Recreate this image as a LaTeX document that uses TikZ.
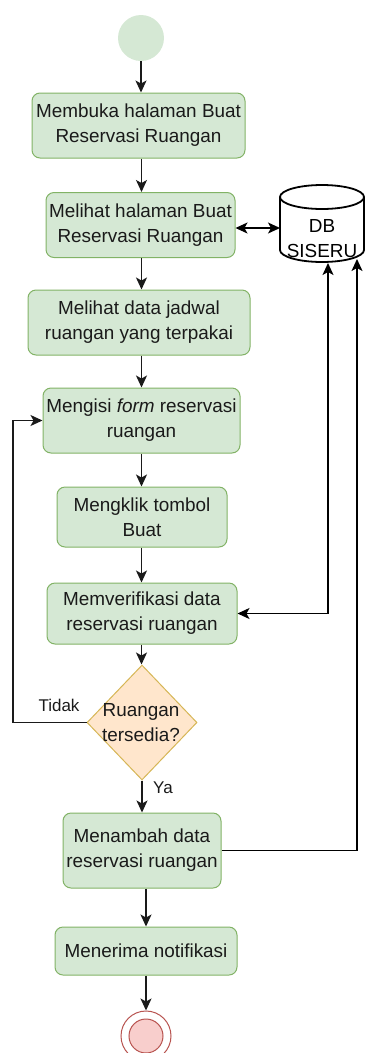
\documentclass[tikz,border=0pt]{standalone}
\usepackage{fontspec}
\setmainfont{Liberation Sans}
\usetikzlibrary{shapes.geometric,arrows.meta}
\definecolor{boxfill}{HTML}{D5E8D4}
\definecolor{boxline}{HTML}{82B366}
\definecolor{diafill}{HTML}{FFE6CC}
\definecolor{dialine}{HTML}{D6B656}
\definecolor{endfill}{HTML}{F8CECC}
\definecolor{endline}{HTML}{B85450}
\definecolor{ink}{HTML}{1A1A1A}
\newcommand\bodyfs{\fontsize{18.9}{25}\selectfont}
\newcommand\lblfs{\fontsize{17}{20}\selectfont}
\begin{document}
\begin{tikzpicture}[x=1pt,y=-1pt,
  box/.style={draw=boxline, fill=boxfill, rounded corners=8pt, line width=1pt,
    align=center, font=\bodyfs, text=ink, inner sep=0pt},
  flow/.style={draw=ink, line width=1.3pt, -{Stealth[length=12pt,width=11pt,inset=3pt]}},
  flow2/.style={draw=black, line width=1.3pt, {Stealth[length=12pt,width=11pt,inset=3pt]}-{Stealth[length=12pt,width=11pt,inset=3pt]}},
  lbl/.style={font=\lblfs, text=ink, inner sep=0pt}]
\useasboundingbox (0,0) rectangle (367,1053);
% start
\node[circle, fill=boxfill, minimum size=46pt, inner sep=0pt] (s) at (141,38) {};
% boxes
\node[box, minimum width=213pt, minimum height=65pt] (b1) at (138.5,125.5) {Membuka halaman Buat\\Reservasi Ruangan};
\node[box, minimum width=189pt, minimum height=65pt] (b2) at (140.5,225) {Melihat halaman Buat\\Reservasi Ruangan};
\node[box, minimum width=222pt, minimum height=65pt] (b3) at (139,322.5) {Melihat data jadwal\\ruangan yang terpakai};
\node[box, minimum width=197pt, minimum height=65pt] (b4) at (141.5,420.5) {Mengisi \textit{form} reservasi\\ruangan};
\node[box, minimum width=170pt, minimum height=60pt] (b5) at (142,517) {Mengklik tombol\\Buat};
\node[box, minimum width=190pt, minimum height=61pt] (b6) at (142,613.5) {Memverifikasi data\\reservasi ruangan};
\node[diamond, draw=dialine, fill=diafill, line width=1pt, minimum width=110pt, minimum height=115pt, inner sep=0pt] (dia) at (142,722.5) {};
\node[align=center, font=\bodyfs, text=ink, inner sep=0pt] (diat) at (141,723) {Ruangan\\tersedia?};
\node[box, minimum width=158pt, minimum height=75pt] (b7) at (142,850.5) {Menambah data\\reservasi ruangan};
\node[box, minimum width=182pt, minimum height=48pt] (b8) at (146,951) {Menerima notifikasi};
% end
\node[circle, draw=endline, fill=white, line width=1pt, minimum size=50pt, inner sep=0pt] (e) at (146,1036) {};
\node[circle, draw=endline, fill=endfill, line width=1pt, minimum size=34pt, inner sep=0pt] (ei) at (146,1036) {};
% database cylinder
\draw[black, line width=1.8pt, fill=white] (280,197) -- (280,250)
  arc[start angle=180, end angle=360, x radius=42pt, y radius=12pt] -- (364,197);
\draw[black, line width=1.8pt, fill=white] (322,197) ellipse[x radius=42pt, y radius=12pt];
\node[align=center, font=\bodyfs, text=black, inner sep=0pt] (db) at (322,239) {\fontsize{18.9}{21}\selectfont DB\\SISERU};
\coordinate (dbL) at (280,228);
\coordinate (dbA) at (328,263);
\coordinate (dbB) at (357,259);
\coordinate (col) at (141.5,0);
\coordinate (lp) at (13,0);
% flow
\draw[flow] (s) -- (s |- b1.north);
\draw[flow] (b1.south -| col) -- (b2.north -| col);
\draw[flow] (b2.south -| col) -- (b3.north -| col);
\draw[flow] (b3.south -| col) -- (b4.north -| col);
\draw[flow] (b4.south -| col) -- (b5.north -| col);
\draw[flow] (b5.south -| col) -- (b6.north -| col);
\draw[flow] (b6.south -| col) -- (dia.north -| col);
\draw[flow] (dia.south) -- (b7.north -| dia.south);
\draw[flow] (b7.south -| b8.north) -- (b8.north);
\draw[flow] (b8.south) -- (e.north);
% database links
\draw[flow2] (dbL -| b2.east) -- (dbL);
\draw[flow2] (b6.east) -| (dbA);
\draw[flow, draw=black] (b7.east) -| (dbB);
% loop
\draw[flow] (dia.west) -- (dia.west -| lp) |- (b4.west);
% labels
\node[lbl] (tidak) at (59,705) {Tidak};
\node[lbl] (ya) at (163,788) {Ya};
\end{tikzpicture}
\end{document}
